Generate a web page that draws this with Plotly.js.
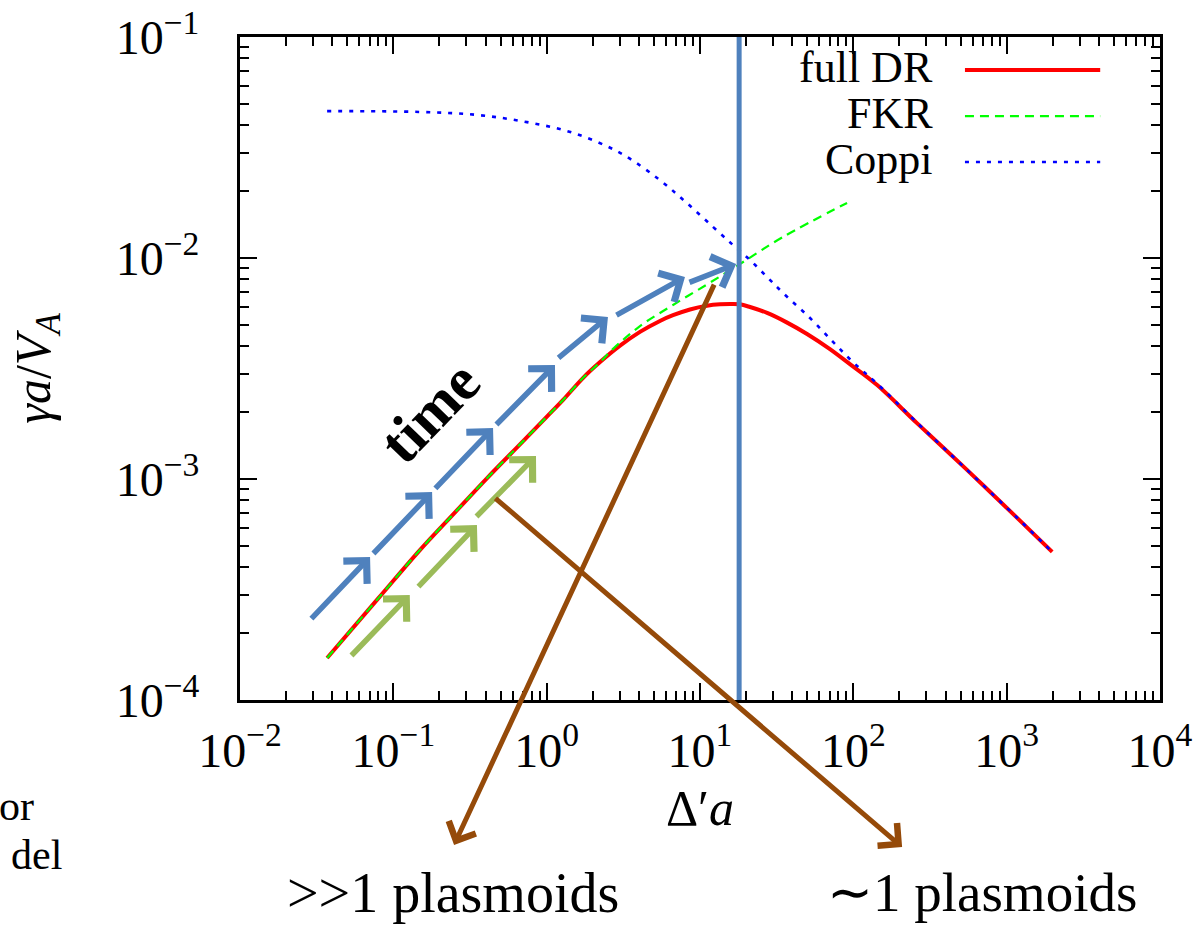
<!DOCTYPE html>
<html>
<head>
<meta charset="utf-8">
<script src="https://cdn.plot.ly/plotly-3.0.1.min.js"></script>
<style>html,body{margin:0;padding:0;background:#fff;}#chart{width:1196px;height:926px;}</style>
</head>
<body>
<div id="chart"></div>
<script>
// ---- data ----
const xFullDR = [0.037, 0.08, 0.149, 0.25, 0.409, 0.7, 1.0, 1.28, 1.73, 2.23, 3.01, 4.06, 5.48, 6.67, 8.61, 11.1, 13.5, 15.7, 18.2, 21.2, 27.4, 37, 49.9, 70, 95, 143, 260, 551, 1170, 1980];
const yFullDR = [1.55e-4, 2.89e-4, 4.77e-4, 7.01e-4, 1.01e-3, 1.48e-3, 1.91e-3, 2.28e-3, 2.87e-3, 3.38e-3, 4.01e-3, 4.63e-3, 5.19e-3, 5.51e-3, 5.85e-3, 6.08e-3, 6.17e-3, 6.19e-3, 6.17e-3, 6.0e-3, 5.64e-3, 5.10e-3, 4.53e-3, 3.88e-3, 3.31e-3, 2.66e-3, 1.79e-3, 1.10e-3, 6.67e-4, 4.68e-4];

const xFKR = [0.037, 0.08, 0.149, 0.25, 0.409, 0.7, 1.0, 1.28, 1.73, 2.23, 2.71, 4.06, 6.67, 11.1, 18.2, 34.8, 91];
const yFKR = [1.55e-4, 2.89e-4, 4.77e-4, 7.01e-4, 1.01e-3, 1.48e-3, 1.91e-3, 2.28e-3, 2.87e-3, 3.38e-3, 3.88e-3, 4.92e-3, 6.13e-3, 7.59e-3, 9.39e-3, 1.245e-2, 1.775e-2];

const xCoppi = [0.037, 0.149, 0.351, 0.744, 1.49, 3.01, 5.48, 8.23, 12.2, 16.4, 21.2, 27.4, 34.8, 52.2, 73.7, 99.5, 143, 260, 551, 1170, 1980];
const yCoppi = [0.0462, 0.0458, 0.0444, 0.0412, 0.0368, 0.0299, 0.0225, 0.0177, 0.0138, 0.01145, 9.79e-3, 8.20e-3, 6.95e-3, 5.35e-3, 4.17e-3, 3.38e-3, 2.70e-3, 1.80e-3, 1.10e-3, 6.68e-4, 4.68e-4];

const xVertical = [18, 18];
const yVertical = [1e-4, 1e-1];

// "time" arrows (tails -> heads), in data units
const blueTailX = [0.0286, 0.0726, 0.184, 0.460, 1.168, 2.79, 8.35];
const blueTailY = [2.30e-4, 4.53e-4, 8.92e-4, 1.737e-3, 3.49e-3, 5.47e-3, 7.71e-3];
const blueHeadX = [0.0705, 0.179, 0.447, 1.133, 2.51, 7.98, 17.2];
const blueHeadY = [4.44e-4, 8.73e-4, 1.70e-3, 3.28e-3, 5.41e-3, 8.20e-3, 9.39e-3];

const greenTailX = [0.0522, 0.1427, 0.341];
const greenTailY = [1.565e-4, 3.21e-4, 6.66e-4];
const greenHeadX = [0.128, 0.351, 0.852];
const greenHeadY = [2.99e-4, 6.19e-4, 1.271e-3];

const brownTailX = [12.5, 0.453];
const brownTailY = [7.70e-3, 8.29e-4];
const brownHeadX = [0.249, 208];
const brownHeadY = [2.21e-5, 2.16e-5];

const xTickVals = [0.01, 0.1, 1, 10, 100, 1000, 10000];
const xTickText = ['10<sup>\u22122</sup>', '10<sup>\u22121</sup>', '10<sup>0</sup>', '10<sup>1</sup>', '10<sup>2</sup>', '10<sup>3</sup>', '10<sup>4</sup>'];
const yTickVals = [1e-4, 1e-3, 1e-2, 1e-1];
const yTickText = ['10<sup>\u22124</sup>', '10<sup>\u22123</sup>', '10<sup>\u22122</sup>', '10<sup>\u22121</sup>'];

const legendNames = ['full DR', 'FKR', 'Coppi'];

// ---- minor tick positions (2..9 in each decade) ----
function minorTicks(lo, hi) {
  const out = [];
  for (let d = lo; d < hi; d++) for (let k = 2; k <= 9; k++) out.push(k * Math.pow(10, d));
  return out;
}

const FONT = 'Liberation Serif, Times New Roman, serif';
const BLUE_A = '#4f81bd', GREEN_A = '#9bbb59', BROWN_A = '#954a09';

const traces = [
  {x: xFullDR, y: yFullDR, name: legendNames[0], mode: 'lines', line: {color: '#ff0000', width: 4, shape: 'spline', smoothing: 1}},
  {x: xFKR, y: yFKR, name: legendNames[1], mode: 'lines', line: {color: '#00ff00', width: 2.2, dash: '9px,6px', shape: 'spline', smoothing: 1}},
  {x: xCoppi, y: yCoppi, name: legendNames[2], mode: 'lines', line: {color: '#0000ff', width: 2.6, dash: '4px,7px', shape: 'spline', smoothing: 1}},
  {x: xVertical, y: yVertical, mode: 'lines', showlegend: false, line: {color: BLUE_A, width: 5}}
];

const L = Math.log10;
const annotations = [];
function addArrows(tx, ty, hx, hy, color, width, size) {
  for (let i = 0; i < tx.length; i++) {
    annotations.push({
      x: L(hx[i]), y: L(hy[i]), ax: L(tx[i]), ay: L(ty[i]),
      xref: 'x', yref: 'y', axref: 'x', ayref: 'y',
      text: '', showarrow: true, arrowhead: 4, arrowsize: size,
      arrowwidth: width, arrowcolor: color, standoff: 0, startstandoff: 0
    });
  }
}
addArrows(blueTailX, blueTailY, blueHeadX, blueHeadY, BLUE_A, 5.5, 1.15);
addArrows(greenTailX, greenTailY, greenHeadX, greenHeadY, GREEN_A, 5.5, 1.15);
addArrows(brownTailX, brownTailY, brownHeadX, brownHeadY, BROWN_A, 5, 1.15);

// "time" label
annotations.push({x: L(0.1734), y: L(2.01e-3), xref: 'x', yref: 'y', text: '<b>time</b>', showarrow: false,
  textangle: -46, font: {family: FONT, size: 60, color: '#000'}});

// manual legend (text left, sample right)
const legendRowsY = [0.9502, 0.8808, 0.8115];
const legendColors = ['#ff0000', '#00ff00', '#0000ff'];
const legendDash = ['solid', '9px,6px', '4px,7px'];
const legendWidth = [4, 2.2, 2.6];
const shapes = [];
for (let i = 0; i < legendNames.length; i++) {
  annotations.push({x: 0.7554, y: legendRowsY[i] + 0.004, xref: 'paper', yref: 'paper', xanchor: 'right', yanchor: 'middle',
    text: legendNames[i], showarrow: false, font: {family: FONT, size: 44, color: '#000'}});
  shapes.push({type: 'line', xref: 'paper', yref: 'paper', x0: 0.788, x1: 0.935, y0: legendRowsY[i], y1: legendRowsY[i],
    line: {color: legendColors[i], width: legendWidth[i], dash: legendDash[i]}});
}

// texts below the chart
annotations.push({x: 0.2315, y: -0.2911, xref: 'paper', yref: 'paper', text: '>>1 plasmoids', showarrow: false,
  xanchor: 'center', yanchor: 'middle', font: {family: FONT, size: 56, color: '#000'}});
annotations.push({x: 0.8065, y: -0.2911, xref: 'paper', yref: 'paper', text: '\u223c1 plasmoids', showarrow: false,
  xanchor: 'center', yanchor: 'middle', font: {family: FONT, size: 55, color: '#000'}});
annotations.push({x: -0.2217, y: -0.1600, xref: 'paper', yref: 'paper', text: 'or', showarrow: false,
  xanchor: 'right', yanchor: 'middle', font: {family: FONT, size: 42, color: '#000'}});
annotations.push({x: -0.1913, y: -0.2338, xref: 'paper', yref: 'paper', text: 'del', showarrow: false,
  xanchor: 'right', yanchor: 'middle', font: {family: FONT, size: 42, color: '#000'}});

const axisCommon = {
  type: 'log', showgrid: false, zeroline: false, automargin: false,
  ticks: 'inside', ticklen: 17, tickwidth: 2, tickcolor: '#000',
  showline: true, linewidth: 3, linecolor: '#000', mirror: 'allticks',
  tickmode: 'array', tickfont: {family: FONT, size: 48, color: '#000'}
};

const layout = {
  width: 1196, height: 926,
  margin: {l: 240, r: 36, t: 37, b: 226},
  paper_bgcolor: '#fff', plot_bgcolor: '#fff',
  showlegend: false,
  xaxis: Object.assign({}, axisCommon, {
    range: [-2, 4], tickvals: xTickVals, ticktext: xTickText, ticklabelstandoff: 6,
    minor: {tickmode: 'array', tickvals: minorTicks(-2, 4), ticks: 'inside', ticklen: 9, tickwidth: 2, tickcolor: '#000', showgrid: false},
    title: {text: '\u0394\u2032<i>a</i>', font: {family: FONT, size: 50, color: '#000'}, standoff: 15}
  }),
  yaxis: Object.assign({}, axisCommon, {
    range: [-4, -1], tickvals: yTickVals, ticktext: yTickText, ticklabelstandoff: 28,
    minor: {tickmode: 'array', tickvals: minorTicks(-4, -1), ticks: 'inside', ticklen: 9, tickwidth: 2, tickcolor: '#000', showgrid: false},
    title: {text: '<i>\u03b3a</i>/<i>V</i><sub><i>A</i></sub>', font: {family: FONT, size: 50, color: '#000'}, standoff: 50}
  }),
  annotations: annotations,
  shapes: shapes
};

Plotly.newPlot('chart', traces, layout, {displayModeBar: false, staticPlot: true});
</script>
</body>
</html>
